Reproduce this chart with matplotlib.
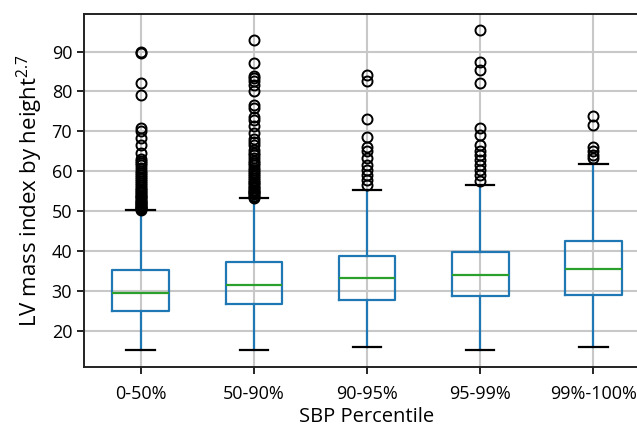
import matplotlib
matplotlib.use("Agg")
import matplotlib.pyplot as plt

plt.rcParams['font.family'] = ['Open Sans', 'DejaVu Sans']

categories = ["0-50%", "50-90%", "90-95%", "95-99%", "99%-100%"]

# box statistics: whislo, q1, median, q3, whishi
whislo = [15.2, 15.2, 16.1, 15.2, 16.1]
q1 = [25.1, 26.7, 27.9, 28.8, 29.1]
med = [29.6, 31.5, 33.2, 34.0, 35.6]
q3 = [35.3, 37.3, 38.9, 39.8, 42.6]
whishi = [50.3, 53.3, 55.3, 56.6, 61.9]

fliers_1 = [50.4, 50.5, 50.7, 50.9, 51.1, 51.3, 51.5, 51.8, 52.0, 52.3, 52.6, 52.9,
            53.2, 53.5, 53.8, 54.1, 54.5, 54.9, 55.3, 55.7, 56.1, 56.5, 57.0, 57.5,
            58.0, 58.5, 59.0, 59.6, 60.2, 60.9, 61.5, 62.0, 62.6, 63.2, 64.5, 66.6,
            68.3, 70.0, 70.8, 79.0, 82.0, 89.7, 90.0]
fliers_2 = [53.4, 53.6, 53.9, 54.2, 54.5, 54.8, 55.1, 55.4, 55.8, 56.2, 56.6, 57.0,
            57.4, 57.8, 58.3, 58.8, 59.3, 59.8, 60.3, 60.9, 61.5, 62.1, 62.7, 63.3,
            64.0, 64.7, 65.4, 66.6, 67.3, 68.0, 69.5, 71.4, 72.9, 73.7, 75.8, 76.6,
            80.0, 81.7, 82.5, 83.3, 83.9, 87.2, 92.9]
fliers_3 = [56.6, 57.8, 59.1, 60.3, 61.6, 63.3, 65.0, 66.2, 68.7, 73.1, 82.5, 84.2]
fliers_4 = [57.5, 59.1, 60.3, 61.6, 62.9, 64.1, 65.0, 66.6, 69.1, 70.8, 82.1, 85.4,
            87.5, 95.3]
fliers_5 = [63.3, 64.1, 65.0, 66.2, 71.6, 73.9]
fliers = [fliers_1, fliers_2, fliers_3, fliers_4, fliers_5]

stats = []
for i, c in enumerate(categories):
    stats.append(dict(label=c, whislo=whislo[i], q1=q1[i], med=med[i], q3=q3[i],
                      whishi=whishi[i], fliers=fliers[i]))

fig = plt.figure(figsize=(6.37, 4.28), dpi=100)
ax = fig.add_axes([84 / 637, 61 / 428, 566 / 637, 353 / 428])

blue = '#1f77b4'
ax.bxp(stats, widths=0.5,
       boxprops=dict(color=blue, linewidth=1.6),
       whiskerprops=dict(color=blue, linewidth=1.6),
       medianprops=dict(color='#2ca02c', linewidth=1.6),
       capprops=dict(color='black', linewidth=1.6),
       flierprops=dict(marker='o', markerfacecolor='none', markeredgecolor='black',
                       markersize=7.2, markeredgewidth=1.4))

ax.grid(True, color='#c8c8c8', linewidth=1.5)
ax.set_axisbelow(True)
ax.set_ylim(11.0, 99.4)
ax.set_yticks([20, 30, 40, 50, 60, 70, 80, 90])
for s in ax.spines.values():
    s.set_linewidth(1.4)
    s.set_color('#222222')
ax.tick_params(labelsize=13, width=1.2, length=5)
ax.tick_params(axis='x', pad=8)
ax.set_xlabel("SBP Percentile", fontsize=14.5, labelpad=2.5)
ax.set_ylabel(r"LV mass index by height$^{\mathregular{2.7}}$", fontsize=16, labelpad=5)

fig.savefig("out.png", dpi=100)
